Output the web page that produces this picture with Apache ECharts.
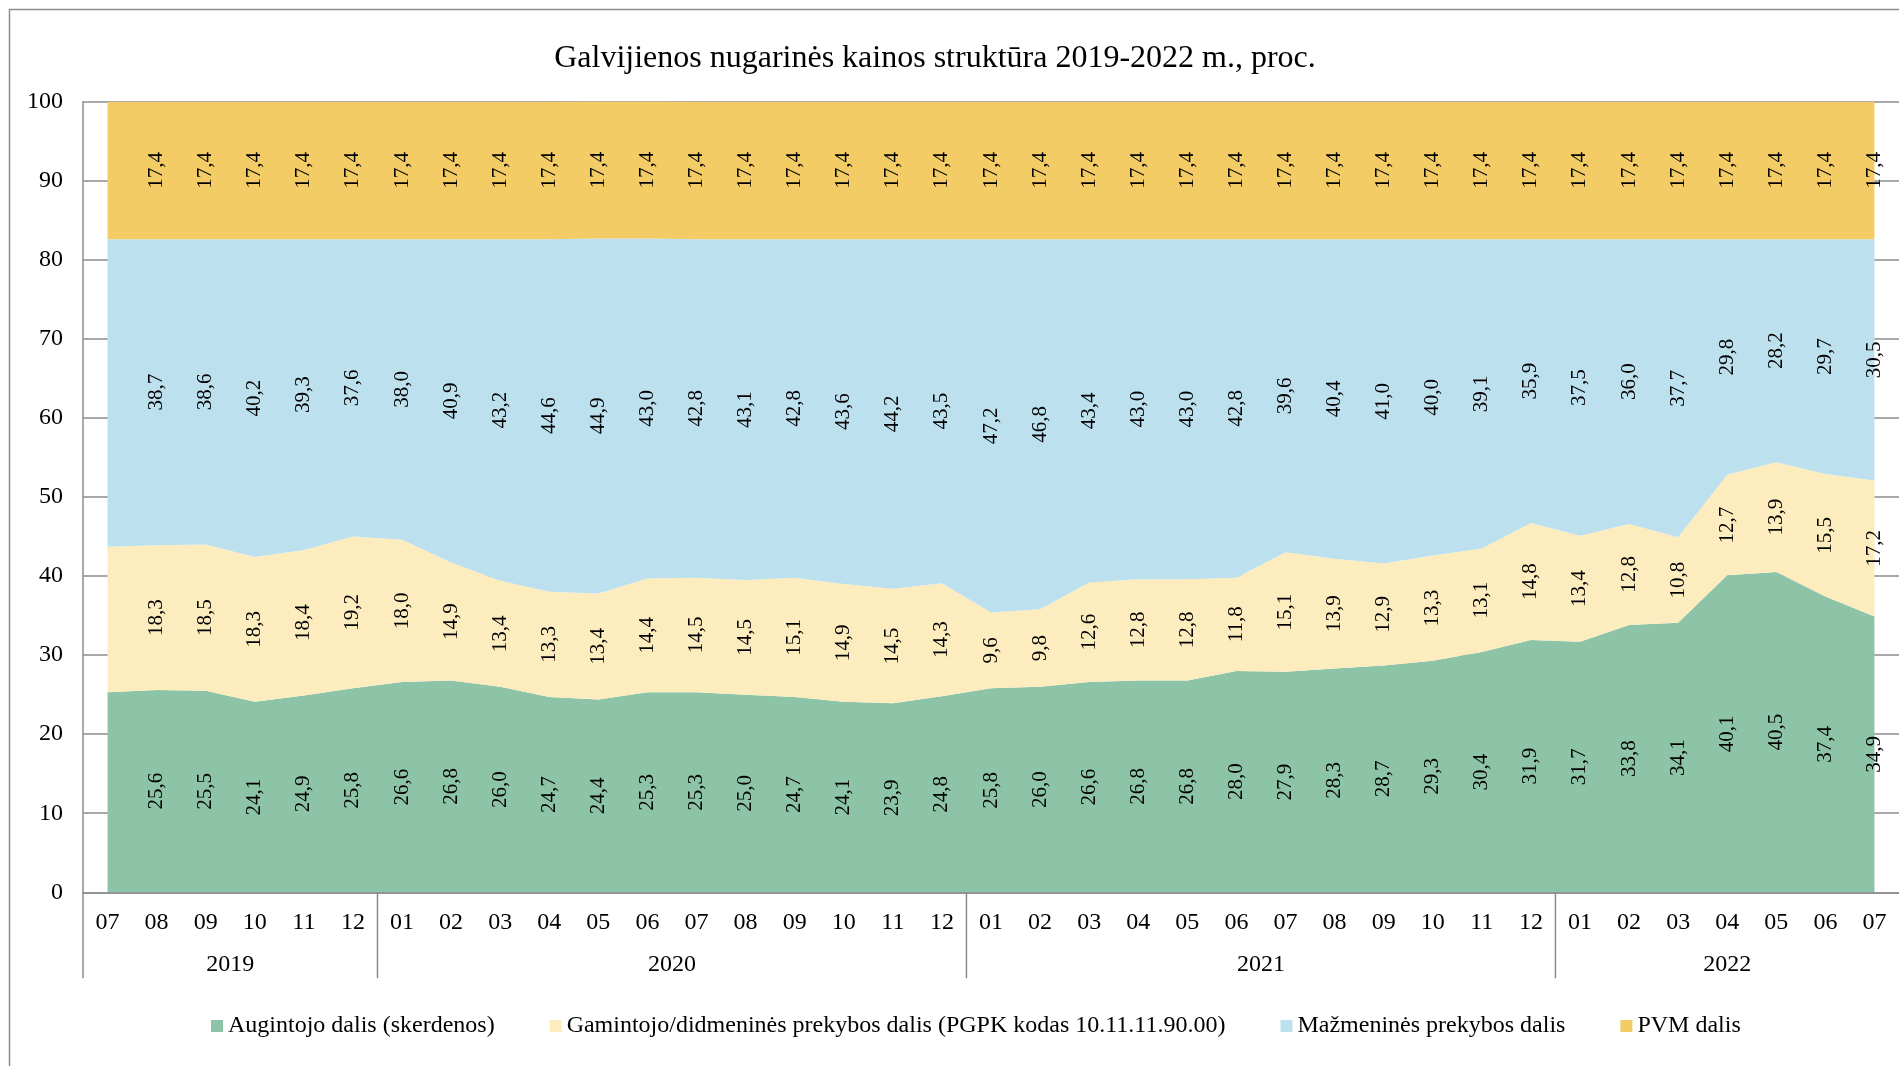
<!DOCTYPE html>
<html>
<head>
<meta charset="utf-8">
<title>Galvijienos nugarinės kainos struktūra</title>
<script src="https://cdn.jsdelivr.net/npm/echarts/dist/echarts.min.js"></script>
<style>
  html, body { margin: 0; padding: 0; background: #fff; }
  #main { width: 1899px; height: 1066px; }
</style>
</head>
<body>
<div id="main"></div>
<script>
// months 2019-07 .. 2022-07
var months = ['07', '08', '09', '10', '11', '12',
  '01', '02', '03', '04', '05', '06', '07', '08', '09', '10', '11', '12',
  '01', '02', '03', '04', '05', '06', '07', '08', '09', '10', '11', '12',
  '01', '02', '03', '04', '05', '06', '07'];
var yearLabels = ['2019', '2020', '2021', '2022'];
var yearStart = [0, 6, 18, 30];   // index of first month of each year

var seriesNames = ['Augintojo dalis (skerdenos)',
  'Gamintojo/didmeninės prekybos dalis (PGPK kodas 10.11.11.90.00)',
  'Mažmeninės prekybos dalis',
  'PVM dalis'];

var augintojo = [25.3, 25.6, 25.5, 24.1, 24.9, 25.8,
  26.6, 26.8, 26.0, 24.7, 24.4, 25.3, 25.3, 25.0, 24.7, 24.1, 23.9, 24.8,
  25.8, 26.0, 26.6, 26.8, 26.8, 28.0, 27.9, 28.3, 28.7, 29.3, 30.4, 31.9,
  31.7, 33.8, 34.1, 40.1, 40.5, 37.4, 34.9];
var gamintojo = [18.4, 18.3, 18.5, 18.3, 18.4, 19.2,
  18.0, 14.9, 13.4, 13.3, 13.4, 14.4, 14.5, 14.5, 15.1, 14.9, 14.5, 14.3,
  9.6, 9.8, 12.6, 12.8, 12.8, 11.8, 15.1, 13.9, 12.9, 13.3, 13.1, 14.8,
  13.4, 12.8, 10.8, 12.7, 13.9, 15.5, 17.2];
var mazmenines = [38.9, 38.7, 38.6, 40.2, 39.3, 37.6,
  38.0, 40.9, 43.2, 44.6, 44.9, 43.0, 42.8, 43.1, 42.8, 43.6, 44.2, 43.5,
  47.2, 46.8, 43.4, 43.0, 43.0, 42.8, 39.6, 40.4, 41.0, 40.0, 39.1, 35.9,
  37.5, 36.0, 37.7, 29.8, 28.2, 29.7, 30.5];
var pvm = [17.4, 17.4, 17.4, 17.4, 17.4, 17.4,
  17.4, 17.4, 17.4, 17.4, 17.4, 17.4, 17.4, 17.4, 17.4, 17.4, 17.4, 17.4,
  17.4, 17.4, 17.4, 17.4, 17.4, 17.4, 17.4, 17.4, 17.4, 17.4, 17.4, 17.4,
  17.4, 17.4, 17.4, 17.4, 17.4, 17.4, 17.4];

var colors = ['#8DC3A7', '#FDECBE', '#BDE0EF', '#F4CC66'];
var FONT = '"Liberation Serif", "Times New Roman", serif';
var GRAY = '#8c8c8c';

var chart = echarts.init(document.getElementById('main'));

var allData = [augintojo, gamintojo, mazmenines, pvm];
var seriesList = [];

// stacked areas
allData.forEach(function (arr, i) {
  seriesList.push({
    name: seriesNames[i],
    type: 'line',
    stack: 'area',
    data: arr,
    symbol: 'none',
    lineStyle: { width: 0 },
    itemStyle: { color: colors[i] },
    areaStyle: { color: colors[i], opacity: 1 },
    silent: true,
    z: 2
  });
});

// invisible stacked bars, only to put labels in the middle of each band
allData.forEach(function (arr, i) {
  var d = arr.map(function (v, idx) {
    if (idx == 0) return { value: v, label: { show: false } };
    return v;
  });
  seriesList.push({
    name: 'lbl' + i,
    type: 'bar',
    stack: 'labels',
    data: d,
    barWidth: 20,
    silent: true,
    itemStyle: { color: 'rgba(0,0,0,0)' },
    label: {
      show: true,
      position: 'inside',
      rotate: 90,
      fontFamily: FONT,
      fontSize: 21,
      color: '#000',
      formatter: function (p) {
        return p.value.toFixed(1).replace('.', ',');
      }
    },
    z: 5
  });
});

var option = {
  animation: false,
  backgroundColor: '#fff',
  title: {
    text: 'Galvijienos nugarinės kainos struktūra 2019-2022 m., proc.',
    left: 930,
    top: 38,
    textAlign: 'center',
    textStyle: { fontFamily: FONT, fontSize: 32, fontWeight: 'normal', color: '#000' }
  },
  legend: {
    data: seriesNames,
    left: 206,
    top: 1009,
    icon: 'rect',
    itemWidth: 12,
    itemHeight: 12,
    itemGap: 55,
    textStyle: { fontFamily: FONT, fontSize: 24, color: '#000' }
  },
  grid: {
    left: 83,
    top: 101.7,
    width: 1821,
    height: 790.6,
    containLabel: false
  },
  xAxis: {
    type: 'category',
    data: months,
    boundaryGap: true,
    axisLine: { show: true, lineStyle: { color: GRAY, width: 1.5 } },
    axisTick: { show: false },
    axisLabel: {
      interval: 0,
      margin: 18,
      fontFamily: FONT,
      fontSize: 24,
      color: '#000'
    },
    splitLine: { show: false }
  },
  yAxis: {
    type: 'value',
    min: 0,
    max: 100,
    interval: 10,
    axisLine: { show: true, lineStyle: { color: GRAY, width: 1.5 } },
    axisTick: { show: false },
    axisLabel: {
      margin: 20,
      fontFamily: FONT,
      fontSize: 24,
      color: '#000'
    },
    splitLine: { show: true, lineStyle: { color: GRAY, width: 1.5 } }
  },
  series: seriesList
};

chart.setOption(option);

// year row under the month labels: separators and year names
function drawYears () {
  var x0 = chart.convertToPixel({ xAxisIndex: 0 }, 0);
  var x1 = chart.convertToPixel({ xAxisIndex: 0 }, 1);
  var half = (x1 - x0) / 2;
  var yBase = chart.convertToPixel({ yAxisIndex: 0 }, 0);
  var g = [];

  // outer frame of the chart
  g.push({
    type: 'rect',
    shape: { x: 9.5, y: 9.5, width: 1960, height: 1120 },
    style: { fill: null, stroke: GRAY, lineWidth: 1.5 },
    z: 0
  });

  for (var i = 0; i < yearLabels.length; i++) {
    var start = yearStart[i];
    var end = (i + 1 < yearStart.length ? yearStart[i + 1] : months.length) - 1;
    var left = chart.convertToPixel({ xAxisIndex: 0 }, start) - half;
    var cs = chart.convertToPixel({ xAxisIndex: 0 }, start);
    var ce = chart.convertToPixel({ xAxisIndex: 0 }, end);
    g.push({
      type: 'line',
      shape: { x1: left, y1: yBase, x2: left, y2: yBase + 86 },
      style: { stroke: GRAY, lineWidth: 1.5 },
      z: 10
    });
    g.push({
      type: 'text',
      style: {
        text: yearLabels[i],
        x: (cs + ce) / 2,
        y: yBase + 72,
        textAlign: 'center',
        textVerticalAlign: 'middle',
        font: '24px ' + FONT,
        fill: '#000'
      },
      z: 10
    });
  }
  chart.setOption({ graphic: g });
}

drawYears();

window.addEventListener('resize', function () {
  chart.resize();
  drawYears();
});
</script>
</body>
</html>
